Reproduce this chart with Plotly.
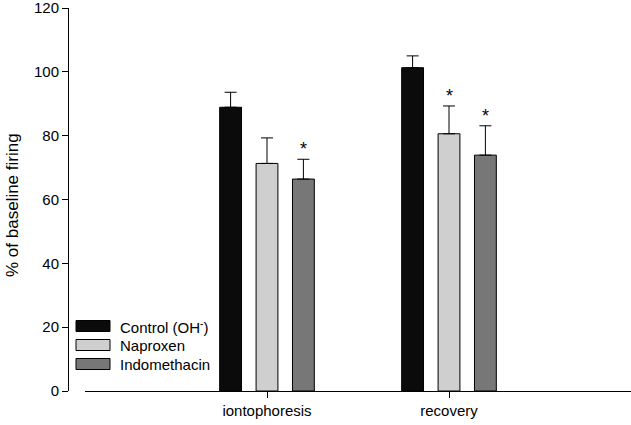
import plotly.graph_objects as go

categories = ["iontophoresis", "recovery"]
series_names = ["Control (OH<sup>-</sup>)", "Naproxen", "Indomethacin"]
control = [88.9, 101.3]
control_err = [4.7, 3.7]
naproxen = [71.3, 80.6]
naproxen_err = [8.0, 8.7]
indometh = [66.4, 73.9]
indometh_err = [6.2, 9.2]
significant = [[False, False], [False, True], [True, True]]

values = [control, naproxen, indometh]
errors = [control_err, naproxen_err, indometh_err]
colors = ["#0b0b0b", "#cfcfcf", "#777777"]

W, H = 631, 425
ML, MR, MT, MB = 60, 0, 8, 34
plot_w = W - ML - MR
plot_h = H - MT - MB
x0_px, yaxis_px = 85, 68


def px_x(px):
    return (px - ML) / plot_w


def px_y(py):
    return (H - MB - py) / plot_h


fig = go.Figure()
for name, v, e, c in zip(series_names, values, errors, colors):
    fig.add_trace(go.Bar(
        x=categories, y=v, name=name,
        marker=dict(color=c, line=dict(color="black", width=1)),
        error_y=dict(type="data", symmetric=False, array=e,
                     arrayminus=[0] * len(e), color="black",
                     thickness=1, width=6),
        showlegend=False, hoverinfo="skip",
    ))

# significance stars
slot = 0.2
for i, (v, e, sig) in enumerate(zip(values, errors, significant)):
    for j, s in enumerate(sig):
        if s:
            fig.add_annotation(
                x=j + (i - 1) * slot, y=v[j] + e[j], xref="x", yref="y",
                text="*", showarrow=False, yanchor="bottom", yshift=-2,
                font=dict(size=18, color="black"))

# legend (manual, wide swatches like the original)
leg_rows = [326, 345, 364]
for name, c, ry in zip(series_names, colors, leg_rows):
    fig.add_shape(type="rect", xref="paper", yref="paper",
                  x0=px_x(76), x1=px_x(110),
                  y0=px_y(ry + 5.5), y1=px_y(ry - 5.5),
                  fillcolor=c, line=dict(color="black", width=1))
    fig.add_annotation(x=px_x(118), y=px_y(ry), xref="paper", yref="paper",
                       text=name, showarrow=False, xanchor="left",
                       yanchor="middle", font=dict(size=15, color="black"))

# y-axis title
fig.add_annotation(x=px_x(12), y=px_y(205), xref="paper", yref="paper",
                   text="% of baseline firing", textangle=-90,
                   xanchor="center", yanchor="middle",
                   showarrow=False, font=dict(size=17, color="black"))

fig.update_layout(
    width=W, height=H,
    margin=dict(l=ML, r=MR, t=MT, b=MB),
    plot_bgcolor="white", paper_bgcolor="white",
    barmode="group", bargap=0.4, bargroupgap=0.4,
    font=dict(family="Liberation Sans, Arial, sans-serif", color="black"),
    xaxis=dict(
        domain=[px_x(x0_px), 1],
        range=[-1, 2], type="category",
        showline=True, linecolor="black", linewidth=1,
        ticks="outside", ticklen=6, tickcolor="black", tickwidth=1,
        tickfont=dict(size=15), showgrid=False, zeroline=False,
    ),
    yaxis=dict(
        range=[0, 120], tickvals=[0, 20, 40, 60, 80, 100, 120],
        anchor="free", position=px_x(yaxis_px),
        showline=True, linecolor="black", linewidth=1,
        ticks="outside", ticklen=6, tickcolor="black",
        tickfont=dict(size=15), showgrid=False, zeroline=False,
        ticklabeloverflow="allow",
    ),
)

fig.write_html("out.html", config={"displayModeBar": False},
               post_script="document.body.style.margin='0';document.body.style.overflow='hidden';")
